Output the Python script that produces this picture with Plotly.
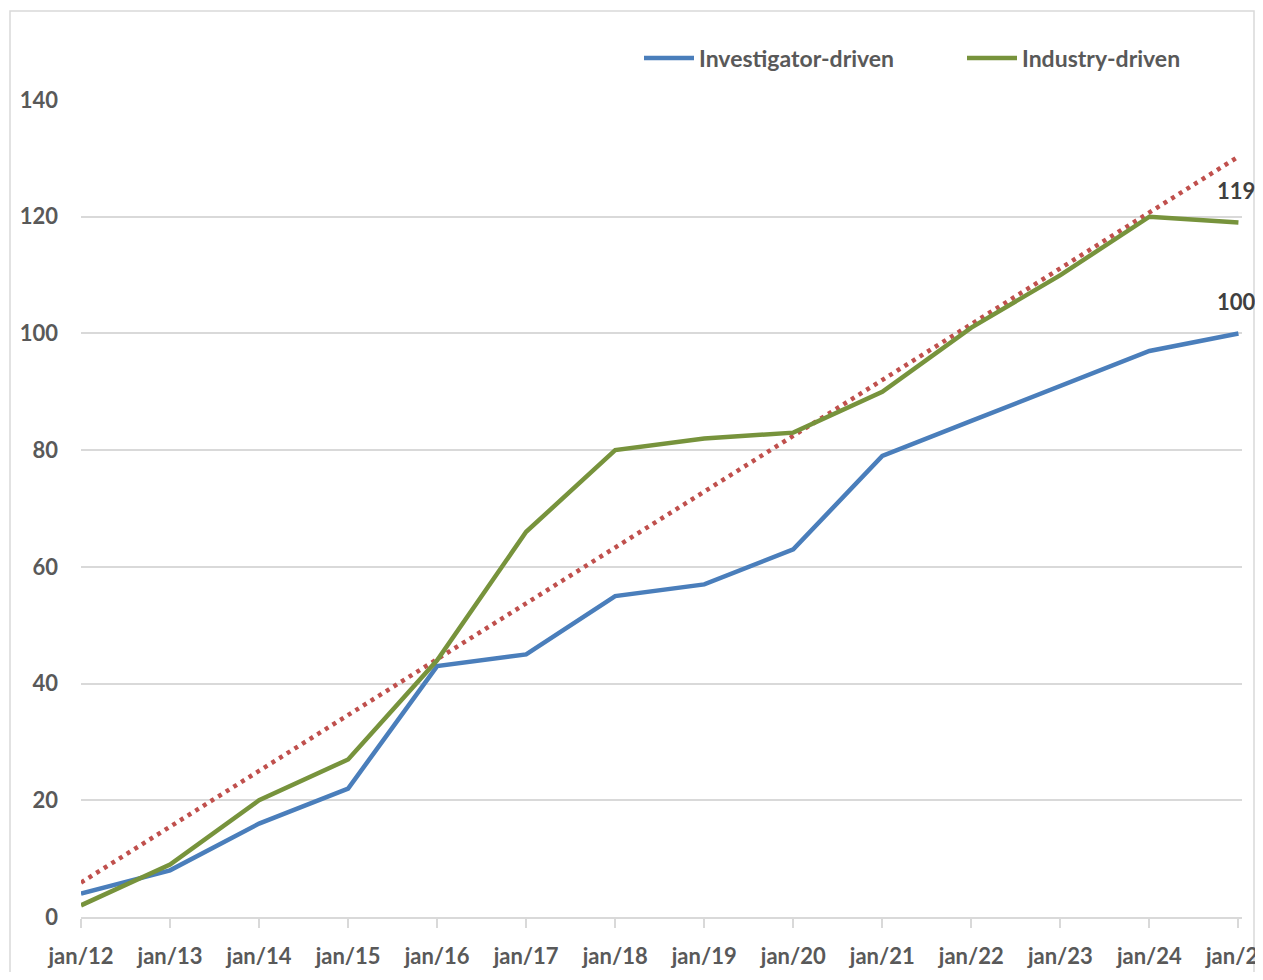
import plotly.graph_objects as go

categories = ["jan/12", "jan/13", "jan/14", "jan/15", "jan/16", "jan/17", "jan/18",
              "jan/19", "jan/20", "jan/21", "jan/22", "jan/23", "jan/24", "jan/25"]
investigator = [4, 8, 16, 22, 43, 45, 55, 57, 63, 79, 85, 91, 97, 100]
industry = [2, 9, 20, 27, 44, 66, 80, 82, 83, 90, 101, 110, 120, 119]
# linear trendline of Industry-driven (endpoints)
trend_x = ["jan/12", "jan/25"]
trend_y = [5.9, 130.3]
y_ticks = [0, 20, 40, 60, 80, 100, 120, 140]

# page has an 8px body margin, so the figure is 16px smaller than the window
W, H = 1247, 964
ML, MR, MT, MB = 73, 13, 92, 55
FONT = "Lato"
GREY = "#595959"

fig = go.Figure()
fig.add_trace(go.Scatter(x=trend_x, y=trend_y, mode="lines", showlegend=False,
                         line=dict(color="#c0504d", width=4.5, dash="4px,5px"), hoverinfo="skip"))
fig.add_trace(go.Scatter(x=categories, y=investigator, mode="lines", name="Investigator-driven",
                         line=dict(color="#4a7ebb", width=4.5)))
fig.add_trace(go.Scatter(x=categories, y=industry, mode="lines", name="Industry-driven",
                         line=dict(color="#77933c", width=4.5)))

# end labels
fig.add_annotation(x=categories[-1], y=industry[-1], text=str(industry[-1]), showarrow=False,
                   yshift=32, xshift=-2, font=dict(family=FONT, size=22, color="#404040", weight="bold"))
fig.add_annotation(x=categories[-1], y=investigator[-1], text=str(investigator[-1]), showarrow=False,
                   yshift=32, xshift=-2, font=dict(family=FONT, size=22, color="#404040", weight="bold"))

pw = W - ML - MR
ph = H - MT - MB
fig.add_shape(type="rect", xref="paper", yref="paper",
              x0=(2 - ML) / pw, x1=(W - 1 - ML) / pw,
              y0=(H - MB - 1000) / ph, y1=(H - MB - 3) / ph,
              line=dict(color="#d9d9d9", width=1.5), fillcolor="rgba(0,0,0,0)", layer="below")

fig.update_layout(
    width=W, height=H,
    margin=dict(l=ML, r=MR, t=MT, b=MB, autoexpand=False),
    paper_bgcolor="white", plot_bgcolor="white",
    font=dict(family=FONT, size=22, color=GREY, weight="bold"),
    legend=dict(orientation="h", x=(631 - ML) / pw, y=(H - MB - 50) / ph, xanchor="left", yanchor="middle",
                font=dict(family=FONT, size=23, color=GREY, weight="bold"),
                itemwidth=50, traceorder="normal", bgcolor="rgba(0,0,0,0)", entrywidthmode="pixels",
                entrywidth=258),
    showlegend=True,
)
fig.update_xaxes(type="category", categoryorder="array", categoryarray=categories,
                 range=[0, 13.04], showgrid=False, showline=True, tickangle=0,
                 linecolor="#d9d9d9", linewidth=2, ticks="outside", ticklen=9, tickcolor="#d9d9d9",
                 tickwidth=1.5, tickfont=dict(family=FONT, size=22, color=GREY, weight="bold"),
                 ticklabelstandoff=10, zeroline=False, fixedrange=True, automargin=False)
fig.update_yaxes(range=[0, 140], tickvals=y_ticks, showgrid=True, gridcolor="#d9d9d9", gridwidth=1.5,
                 zeroline=False, showline=False, ticks="", ticklabelstandoff=22, automargin=False,
                 tickfont=dict(family=FONT, size=22, color=GREY, weight="bold"), fixedrange=True)

fig.write_html("out.html")
